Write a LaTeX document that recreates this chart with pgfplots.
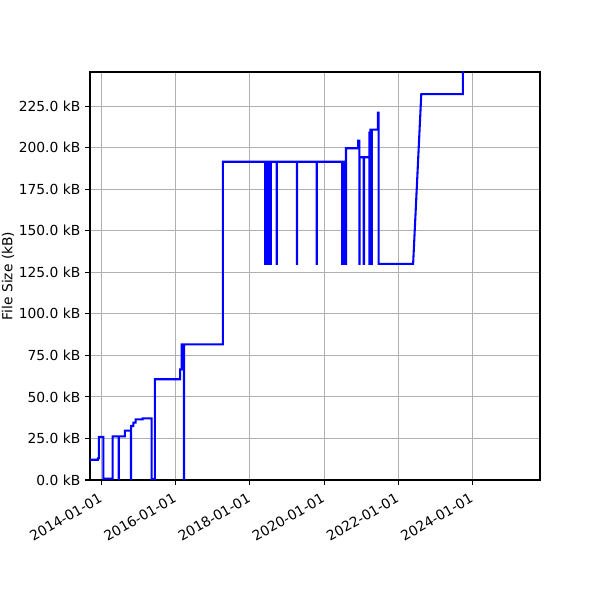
\documentclass[border=0pt]{standalone}
\usepackage{pgfplots}
\pgfplotsset{compat=1.18}
\usepackage{fontspec}
\setmainfont{DejaVu Sans}
\definecolor{gridgray}{HTML}{B0B0B0}
\begin{document}
\fontsize{10}{12}\selectfont
\begin{tikzpicture}
\path[use as bounding box] (0,0) rectangle (6in,6in);
\begin{axis}[
  at={(0.9in,1.2in)}, anchor=south west,
  scale only axis, width=4.5in, height=4.08in,
  xmin=2013.69, xmax=2025.82, ymin=0, ymax=245.5,
  axis line style={line width=0.8pt, black},
  tick pos=left, tick align=outside, major tick length=3.5pt,
  every tick/.style={black, line width=0.8pt},
  grid=major, grid style={gridgray, line width=0.8pt},
  xtick={2014,2016,2018,2020,2022,2024},
  xticklabels={2014-01-01,2016-01-01,2018-01-01,2020-01-01,2022-01-01,2024-01-01},
  xticklabel style={rotate=30, anchor=north east, font=\fontsize{10}{12}\selectfont, xshift=-1.5pt},
  ytick={0,25,50,75,100,125,150,175,200,225},
  yticklabels={0.0 kB,25.0 kB,50.0 kB,75.0 kB,100.0 kB,125.0 kB,150.0 kB,175.0 kB,200.0 kB,225.0 kB},
  yticklabel style={font=\fontsize{10}{12}\selectfont},
  ylabel={File Size (kB)},
  ylabel style={at={(axis description cs:-0.182,0.5)}, anchor=center, font=\fontsize{10}{12}\selectfont},
]
\addplot[blue, line width=1.5pt, line join=miter, mark=none] coordinates {
(2013.60,12.2)(2013.90,12.2)(2013.90,13)(2013.93,13)(2013.93,26)(2014.05,26)(2014.05,0.8)
(2014.30,0.8)(2014.30,26.3)(2014.46,26.3)(2014.46,0)(2014.465,0)(2014.465,26.3)
(2014.63,26.3)(2014.63,29.7)(2014.79,29.7)(2014.79,0)(2014.80,0)(2014.80,32.5)
(2014.86,32.5)(2014.86,34.5)(2014.92,34.5)(2014.92,36.5)(2015.11,36.5)(2015.11,37.1)
(2015.35,37.1)(2015.35,0.5)(2015.44,0.5)(2015.44,60.6)(2016.12,60.6)(2016.12,66.6)
(2016.16,66.6)(2016.16,81.6)(2016.22,81.6)(2016.22,0)(2016.225,0)(2016.225,81.6)
(2017.27,81.6)(2017.27,191.5)
(2018.41,191.5)(2018.41,130)(2018.415,130)(2018.415,191.5)
(2018.44,191.5)(2018.44,130)(2018.445,130)(2018.445,191.5)
(2018.47,191.5)(2018.47,130)(2018.475,130)(2018.475,191.5)
(2018.50,191.5)(2018.50,130)(2018.505,130)(2018.505,191.5)
(2018.53,191.5)(2018.53,130)(2018.535,130)(2018.535,191.5)
(2018.56,191.5)(2018.56,130)(2018.565,130)(2018.565,191.5)
(2018.72,191.5)(2018.72,130)(2018.725,130)(2018.725,191.5)
(2019.27,191.5)(2019.27,130)(2019.275,130)(2019.275,191.5)
(2019.80,191.5)(2019.80,130)(2019.805,130)(2019.805,191.5)
(2020.49,191.5)(2020.49,130)(2020.495,130)(2020.495,191.5)
(2020.52,191.5)(2020.52,130)(2020.525,130)(2020.525,191.5)
(2020.55,191.5)(2020.55,130)(2020.555,130)(2020.555,191.5)
(2020.58,191.5)(2020.58,130)(2020.59,130)(2020.59,199.6)
(2020.92,199.6)(2020.92,204.2)(2020.95,204.2)(2020.95,130)(2020.96,130)(2020.96,194.2)
(2021.07,194.2)(2021.07,130)(2021.075,130)(2021.075,194.2)
(2021.22,194.2)(2021.22,130)(2021.225,130)(2021.225,209)(2021.25,209)(2021.25,210.8)
(2021.28,210.8)(2021.28,130)(2021.285,130)(2021.285,210.8)
(2021.45,210.8)(2021.45,221)(2021.47,221)(2021.47,130)
(2022.40,130)(2022.62,232.2)(2023.74,232.2)(2023.74,260)
};
\end{axis}
\end{tikzpicture}
\end{document}
